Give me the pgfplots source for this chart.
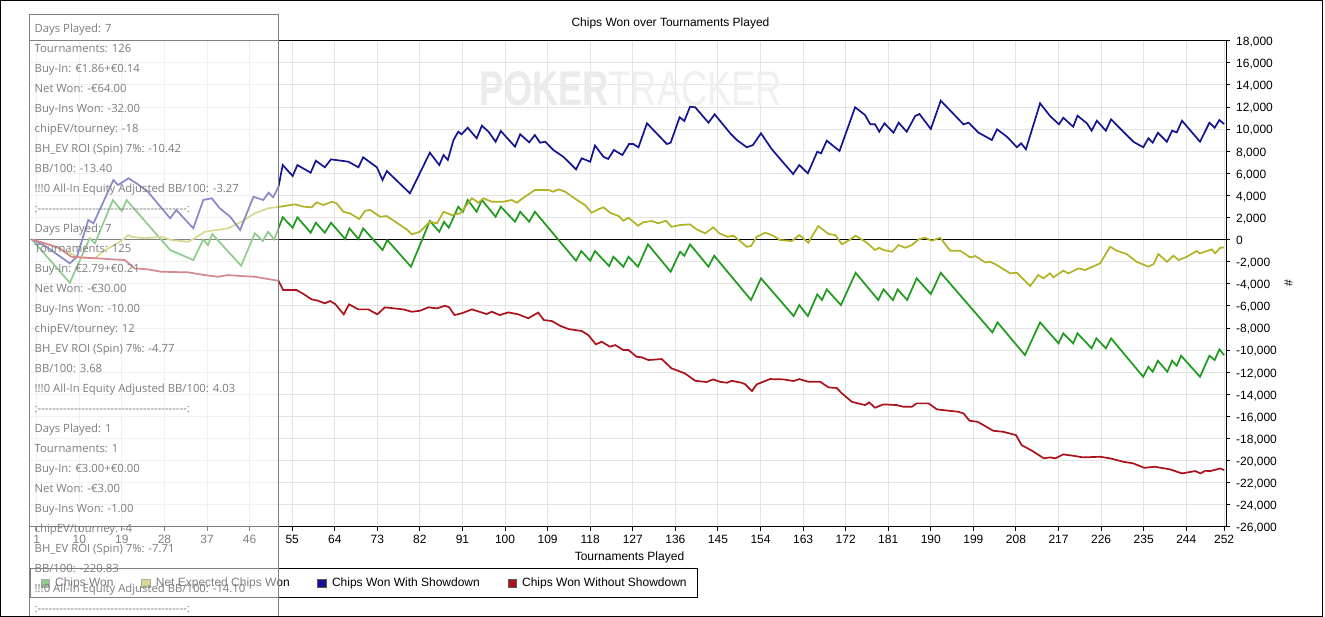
\documentclass[border=0pt]{standalone}
\usepackage{fontspec}
\setmainfont{Liberation Sans}
\newfontfamily\boxfont{Open Sans}[Ligatures=TeXOff]
\usepackage{pgfplots}
\pgfplotsset{compat=1.18}
\usetikzlibrary{backgrounds}
\definecolor{cgreen}{RGB}{30,155,30}
\definecolor{colive}{RGB}{178,178,38}
\definecolor{cblue}{RGB}{20,20,145}
\definecolor{cred}{RGB}{172,18,28}
\definecolor{cgrid}{RGB}{228,228,228}
\definecolor{cboxtext}{RGB}{125,125,125}
\newcommand{\bl}[2]{\node[anchor=base west, inner sep=0pt, text=cboxtext, font=\boxfont\fontsize{11.3}{13}\selectfont] at (34.5,{584.7-20*(#1-1)}) {#2};}
\begin{document}
\begin{tikzpicture}[x=1pt,y=1pt]
\begin{axis}[
  at={(0,0)}, anchor=south west,
  width=1196.5pt, height=486.3pt, scale only axis,
  xmin=-0.53, xmax=252.4, ymin=-26000, ymax=18000,
  axis line style={black, line width=1pt},
  xtick={1,10,19,28,37,46,55,64,73,82,91,100,109,118,127,136,145,154,163,172,181,190,199,208,217,226,235,244,252},
  xticklabels={1,10,19,28,37,46,55,64,73,82,91,100,109,118,127,136,145,154,163,172,181,190,199,208,217,226,235,244,252},
  ytick={-26000,-24000,-22000,-20000,-18000,-16000,-14000,-12000,-10000,-8000,-6000,-4000,-2000,0,2000,4000,6000,8000,10000,12000,14000,16000,18000},
  yticklabels={{-26,000},{-24,000},{-22,000},{-20,000},{-18,000},{-16,000},{-14,000},{-12,000},{-10,000},{-8,000},{-6,000},{-4,000},{-2,000},{0},{2,000},{4,000},{6,000},{8,000},{10,000},{12,000},{14,000},{16,000},{18,000}},
  scaled y ticks=false, scaled x ticks=false,
  xtick pos=bottom, ytick pos=right, yticklabel pos=right,
  tick align=outside, major tick length=4pt,
  tick style={black, line width=1pt},
  grid=major, major grid style={cgrid, line width=1pt},
  ticklabel style={font=\fontsize{12}{14}\selectfont},
  xticklabel style={anchor=base, inner sep=0pt, yshift=-13pt},
  yticklabel style={anchor=base west, inner sep=0pt, xshift=6pt, yshift=-4.8pt},
  legend columns=4,
  legend cell align=left,
  legend style={at={(axis description cs:0,-0.0843)}, anchor=north west, draw=black, line width=1pt,
    font=\fontsize{12}{14}\selectfont, inner xsep=10.5pt, inner ysep=9.5pt,
    nodes={inner sep=0pt},
    /tikz/every even column/.append style={column sep=27.7pt},
    /tikz/every odd column/.append style={column sep=5.5pt}},
  legend image code/.code={\filldraw[#1, line width=0.6pt, draw=black!65] (0pt,-4.25pt) rectangle (8.5pt,4.25pt);},
]
\coordinate (SW) at (rel axis cs:0,0);
\node[inner sep=0pt] at (axis cs:126.6,13630) {\resizebox{302pt}{34pt}{\textcolor{black!8}{\bfseries POKER}\textcolor{black!6}{TRACKER}}};
\draw[black, line width=1pt] (axis cs:-0.53,0) -- (axis cs:252.4,0);
\addplot[color=cgreen, line width=1.7pt] coordinates {
(0,0) (8.0,-3900) (12.2,120) (13.3,-335) (17.1,3585) (19.0,2590) (20.0,3585) (29.2,-940) (34.1,-1850) (36.2,0) (37.2,-490) (38.1,505) (44.2,-2360) (47.1,570) (48.8,-125) (49.9,715) (51.2,25) (53.0,2020) (55.1,1075) (56.1,2020) (58.9,625) (60.0,1530) (61.9,625) (63.2,1530) (66.2,55) (67.1,1020) (69.0,55) (70.0,1020) (74.1,-940) (75.1,-35) (80.1,-2450) (84.1,1685) (86.1,715) (87.1,1620) (88.1,1075) (90.1,2980) (91.1,2525) (92.1,3585) (94.0,2525) (95.1,3585) (98.0,2070) (99.1,2980) (102.1,1620) (103.2,2525) (105.1,1620) (106.3,2525) (115.0,-1910) (116.1,-1030) (118.0,-1910) (119.0,-1030) (122.0,-2390) (122.9,-1550) (125.0,-2450) (126.1,-1550) (128.1,-2450) (130.2,-425) (135.0,-2905) (137.0,-1095) (137.9,-1455) (139.1,-425) (143.0,-2450) (144.2,-1455) (152.0,-5465) (154.1,-3500) (161.0,-6915) (162.2,-5920) (164.0,-6915) (166.0,-4950) (167.0,-5465) (168.0,-4500) (171.0,-5920) (174.1,-3000) (178.9,-5465) (180.0,-4500) (182.0,-5465) (183.0,-4500) (185.0,-5465) (187.0,-3500) (190.0,-4925) (192.1,-3000) (203.0,-8390) (204.1,-7485) (209.9,-10445) (213.1,-7485) (217.0,-9385) (218.0,-8480) (220.1,-9385) (221.0,-8480) (224.0,-9840) (225.0,-8930) (227.0,-9840) (228.1,-8930) (234.9,-12410) (236.0,-11500) (236.9,-11955) (238.0,-10960) (240.0,-11955) (241.0,-10960) (242.0,-11410) (242.9,-10505) (246.9,-12410) (248.9,-10505) (250.0,-10895) (251.0,-9930) (252.0,-10445)
};
\addlegendentry{Chips Won}
\addplot[color=colive, line width=1.7pt] coordinates {
(0,0) (4.0,-500) (9.7,-1550) (13.3,-1690) (15.4,-940) (17.5,-490) (19.6,120) (20.3,415) (21.0,260) (23.8,120) (27.3,260) (29.4,-35) (33.0,-190) (34.4,120) (36.5,715) (41.4,1020) (44.3,1620) (47.1,2380) (49.9,2830) (52.4,2980) (55.6,3195) (57.4,2980) (59.1,2925) (60.2,3375) (61.6,3130) (63.4,3430) (64.4,3285) (65.8,2525) (67.2,2380) (69.2,1865) (70.4,2615) (71.5,2680) (73.6,2070) (75.0,2135) (77.1,1530) (79.2,930) (80.3,480) (82.0,715) (84.1,1620) (85.6,1475) (87.0,2525) (88.7,2225) (90.5,2380) (93.0,3740) (94.4,3340) (95.4,3740) (97.2,3430) (99.6,3430) (101.4,3585) (102.5,3340) (104.2,3880) (106.3,4490) (109.2,4490) (110.2,4335) (111.3,4550) (112.7,4335) (115.2,3585) (116.9,3130) (118.3,2435) (119.7,2740) (120.8,2925) (122.2,2435) (124.0,2135) (125.0,1710) (126.1,1980) (128.1,1260) (129.2,1565) (131.0,1685) (132.4,1475) (134.0,1710) (135.2,1165) (137.0,1320) (139.1,1385) (140.5,930) (142.3,570) (144.0,1115) (145.3,570) (147.0,260) (148.3,355) (151.1,-645) (152.0,-580) (153.2,260) (155.0,625) (156.7,355) (158.1,-35) (160.6,-125) (162.2,415) (164.1,-280) (166.2,1230) (168.4,505) (169.8,415) (171.2,-425) (172.8,-35) (174.1,355) (176.5,-280) (178.2,-940) (179.1,-735) (180.0,-940) (181.8,-1095) (183.2,-490) (184.6,-735) (186.0,-490) (187.4,25) (188.8,170) (190.2,-100) (192.0,170) (194.1,-1005) (196.2,-1005) (198.3,-1600) (199.4,-1485) (201.5,-2055) (202.5,-2000) (203.6,-2210) (205.3,-2660) (206.8,-3050) (208.2,-2995) (211.0,-4200) (212.7,-3205) (213.8,-3500) (215.2,-3050) (215.9,-3410) (218.0,-2810) (219.1,-3050) (221.2,-2600) (222.6,-2750) (225.8,-2145) (227.9,-640) (229.3,-1005) (231.4,-1305) (233.5,-2000) (236.0,-2450) (237.1,-2210) (238.1,-1305) (239.9,-2000) (241.3,-1455) (242.4,-1845) (244.1,-1550) (246.2,-1030) (246.9,-1240) (249.4,-880) (250.1,-1240) (251.2,-735) (252.0,-700)
};
\addlegendentry{Net Expected Chips Won}
\addplot[color=cblue, line width=1.7pt] coordinates {
(0,0) (2.7,-550) (8.0,-2145) (9.5,-1550) (11.9,1775) (13.0,1475) (17.2,5395) (18.2,4940) (20.4,5550) (22.1,5095) (24.5,4330) (29.2,1930) (30.5,2680) (34.1,1020) (36.2,3585) (38.0,3740) (39.7,2830) (41.9,2070) (44.0,870) (46.8,3880) (48.9,3585) (50.0,4245) (51.0,3830) (52.1,4790) (53.0,6750) (55.1,5755) (56.1,6750) (58.9,6055) (60.0,7140) (61.9,6545) (63.2,7265) (66.9,7050) (69.0,6545) (70.0,7450) (72.9,6545) (74.1,5395) (75.0,6210) (79.9,4190) (84.1,7865) (86.1,6750) (87.0,7655) (87.9,7205) (89.1,9015) (90.1,9765) (90.8,9530) (92.1,10125) (94.0,9170) (95.1,10310) (96.5,9765) (98.0,8860) (99.1,9830) (102.1,8410) (103.2,9530) (105.1,8805) (106.3,9465) (107.4,8770) (108.5,8860) (110.2,8110) (112.3,7500) (115.0,6360) (116.2,7360) (118.0,7050) (119.0,8515) (120.8,7500) (121.8,7295) (123.0,8110) (124.8,7655) (126.2,8650) (127.1,8650) (128.2,8355) (130.0,10525) (134.2,8650) (135.0,8770) (136.9,11070) (137.9,10735) (139.1,12025) (140.2,11975) (143.0,10580) (144.3,11340) (147.6,9620) (149.0,9015) (151.1,8355) (152.4,8560) (154.1,9620) (156.4,8170) (160.9,5935) (162.2,6750) (164.0,6000) (166.0,7955) (166.8,7810) (168.0,8950) (170.7,8020) (174.0,11975) (176.1,11275) (177.2,10435) (178.2,10435) (179.1,9765) (180.2,10525) (182.1,9675) (183.2,10580) (184.9,9765) (186.7,11185) (187.6,11365) (190.0,10010) (192.1,12570) (196.9,10435) (198.0,10580) (200.1,9675) (202.9,9015) (204.0,9980) (206.1,9310) (208.2,8355) (209.1,8715) (210.1,8170) (213.1,12335) (215.2,11185) (217.1,10435) (218.0,11030) (220.1,10215) (221.0,11215) (223.0,10525) (224.0,9855) (225.1,10760) (227.0,9855) (228.1,10885) (232.8,8860) (234.9,8355) (236.0,9170) (236.9,8770) (238.0,9675) (239.9,8860) (241.0,9855) (242.0,9710) (243.1,10760) (246.9,8860) (248.9,10580) (250.0,10125) (251.0,10825) (252.0,10460)
};
\addlegendentry{Chips Won With Showdown}
\addplot[color=cred, line width=1.7pt] coordinates {
(0,0) (2.7,-335) (5.5,-700) (8.3,-1550) (11.1,-1640) (13.9,-1690) (16.8,-1780) (19.6,-1845) (21.7,-2600) (24.5,-2690) (27.3,-2905) (33.0,-2960) (36.5,-3205) (39.3,-3360) (41.4,-3205) (44.3,-3295) (47.1,-3360) (49.9,-3565) (52.1,-3720) (53.1,-4560) (55.9,-4560) (57.4,-4925) (59.1,-5405) (60.5,-5530) (61.9,-5765) (63.0,-5555) (64.1,-5830) (65.9,-6760) (67.0,-5855) (69.0,-6310) (71.1,-6310) (73.0,-6760) (74.6,-6125) (78.5,-6310) (80.3,-6525) (82.0,-6435) (83.8,-6125) (85.6,-6220) (87.3,-5980) (88.2,-6125) (89.3,-6825) (90.8,-6670) (93.0,-6310) (96.1,-6735) (97.2,-6525) (98.9,-6825) (100.7,-6580) (102.8,-6760) (104.9,-7120) (107.0,-6600) (108.2,-7275) (109.9,-7365) (111.6,-7790) (113.4,-8090) (116.2,-8270) (117.6,-8635) (119.2,-9475) (120.4,-9240) (122.2,-9690) (123.3,-9540) (125.0,-9990) (126.1,-9990) (127.8,-10600) (128.9,-10650) (130.3,-10895) (133.1,-10805) (135.2,-11650) (138.0,-12100) (140.2,-12770) (142.6,-12885) (144.0,-12645) (145.4,-12860) (146.9,-12950) (147.9,-12770) (150.0,-12950) (150.7,-13070) (152.2,-13700) (153.2,-13095) (156.0,-12615) (158.8,-12645) (161.0,-12795) (162.2,-12615) (164.1,-12860) (166.6,-12860) (168.4,-13365) (170.1,-13430) (171.2,-13910) (173.3,-14670) (176.1,-14970) (177.0,-14725) (178.2,-15210) (180.0,-14905) (182.8,-14970) (184.2,-15120) (186.0,-15120) (187.0,-14815) (189.5,-14815) (191.3,-15360) (195.8,-15575) (196.9,-15720) (198.2,-16390) (199.9,-16480) (203.2,-17295) (205.3,-17385) (208.0,-17685) (209.2,-18590) (211.4,-19105) (213.9,-19790) (215.2,-19700) (216.3,-19790) (218.0,-19430) (220.1,-19555) (222.2,-19700) (225.8,-19645) (227.9,-19790) (230.7,-20100) (232.8,-20245) (235.1,-20645) (237.4,-20550) (240.6,-20790) (243.1,-21150) (245.9,-20940) (247.0,-21150) (248.0,-20915) (249.1,-20940) (251.2,-20700) (252.0,-20850)
};
\addlegendentry{Chips Won Without Showdown}
\end{axis}
\pgfresetboundingbox
\begin{scope}[shift={(SW)}]
\begin{scope}[shift={(-29.5,-90)}]
\useasboundingbox (0,0) rectangle (1325,617);
\begin{scope}[on background layer]
\fill[white] (0,0) rectangle (1325,617);
\end{scope}
\node[anchor=base, inner sep=0pt, font=\fontsize{12}{14}\selectfont] at (670.5,590) {Chips Won over Tournaments Played};
\node[anchor=base, inner sep=0pt, font=\fontsize{12}{14}\selectfont] at (629.5,56.5) {Tournaments Played};
\node[rotate=90, inner sep=0pt, font=\fontsize{12}{14}\selectfont] at (1288.5,333.5) {\#};
% overlay box
\fill[white, opacity=0.5] (29.5,0) rectangle (278,602);
\draw[black!50, line width=1pt] (29.5,-2) -- (29.5,602) -- (278,602) -- (278,-2);
\bl{1}{Days Played: 7}
\bl{2}{Tournaments: 126}
\bl{3}{Buy-In: €1.86+€0.14}
\bl{4}{Net Won: -€64.00}
\bl{5}{Buy-Ins Won: -32.00}
\bl{6}{chipEV/tourney: -18}
\bl{7}{BH\_EV ROI (Spin) 7\%: -10.42}
\bl{8}{BB/100: -13.40}
\bl{9}{!!!0 All-In Equity Adjusted BB/100: -3.27}
\bl{10}{:-----------------------------------------:}
\bl{11}{Days Played: 7}
\bl{12}{Tournaments: 125}
\bl{13}{Buy-In: €2.79+€0.21}
\bl{14}{Net Won: -€30.00}
\bl{15}{Buy-Ins Won: -10.00}
\bl{16}{chipEV/tourney: 12}
\bl{17}{BH\_EV ROI (Spin) 7\%: -4.77}
\bl{18}{BB/100: 3.68}
\bl{19}{!!!0 All-In Equity Adjusted BB/100: 4.03}
\bl{20}{:-----------------------------------------:}
\bl{21}{Days Played: 1}
\bl{22}{Tournaments: 1}
\bl{23}{Buy-In: €3.00+€0.00}
\bl{24}{Net Won: -€3.00}
\bl{25}{Buy-Ins Won: -1.00}
\bl{26}{chipEV/tourney: -4}
\bl{27}{BH\_EV ROI (Spin) 7\%: -7.71}
\bl{28}{BB/100: -220.83}
\bl{29}{!!!0 All-In Equity Adjusted BB/100: -14.10}
\bl{30}{:-----------------------------------------:}
\draw[black, line width=1pt] (0.5,0.5) rectangle (1322.7,616.5);
\end{scope}
\end{scope}
\end{tikzpicture}
\end{document}
